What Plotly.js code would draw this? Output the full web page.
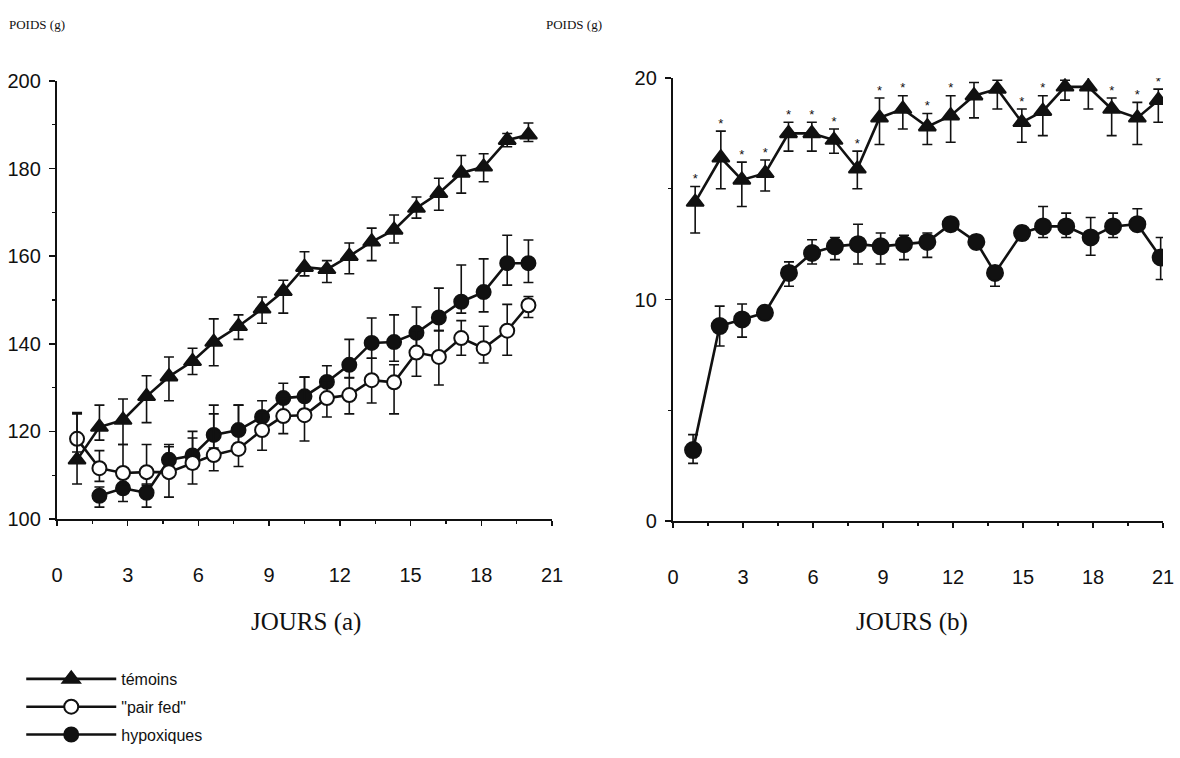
<!DOCTYPE html>
<html><head><meta charset="utf-8">
<script src="https://cdn.plot.ly/plotly-3.0.1.min.js"></script>
<style>html,body{margin:0;padding:0;background:#fff}#chart{width:1180px;height:758px}</style>
</head><body><div id="chart"></div>
<script>
// ---- Panel (a): body weight (g) ----
var joursA = [0.85,1.8,2.8,3.8,4.75,5.75,6.65,7.7,8.7,9.6,10.5,11.45,12.4,13.35,14.3,15.25,16.2,17.15,18.1,19.1,20.0];
var temoinsA = [113.5,121,122.6,128,132.5,136,140.4,144,148,152,157.5,157,160,163.3,166,171,174.4,179,180.4,186.5,187.7];
var temoinsA_plus = [10.5,5,4.8,4.7,4.5,3,5.3,2.6,2.7,2.5,3.5,2,3,3.1,3.4,2.5,3.4,4,3,1.5,2.7];
var temoinsA_minus = [5.5,3,5.6,6,5.5,3,5.4,3,3.3,5,2,3,4,4.3,3,2.3,3.9,4.6,3.4,1.5,1.5];
var pairFedA = [118.3,111.6,110.5,110.7,110.7,112.8,114.6,116,120.3,123.5,123.7,127.6,128.3,131.7,131.2,138,137,141.3,139,143,148.8];
var pairFedA_plus = [6,4,6.5,6.3,6.3,7.2,11.4,10,4,4,8.7,4,4,5,4,5,6,4,5,6,2];
var pairFedA_minus = [3,3,3,3,5.7,4.8,3.6,4,4.6,4,5.9,4.3,4.3,5.2,7.2,5.4,6.4,3.9,3.4,5.6,2.8];
var joursA_hyp = joursA.slice(1);
var hypoxA = [105.3,107,106,113.5,114.5,119.2,120.3,123.3,127.6,128,131.3,135.2,140.2,140.4,142.5,146,149.6,151.8,158.4,158.4];
var hypoxA_plus = [2,3,2,3,4,4.8,5.7,3.7,3.4,4.4,3.7,5.8,5.7,6.2,5.9,6.7,8.4,7.6,6.4,5.3];
var hypoxA_minus = [2.6,3,3.3,3,3,3,3,3,3,3,3,3,3.5,4.4,5.5,3,2.6,4.5,5,4.4];

// ---- Panel (b) ----
var joursB_tem = [0.95,2.05,2.95,3.95,4.95,5.95,6.9,7.9,8.85,9.85,10.9,11.9,12.9,13.9,14.95,15.85,16.8,17.8,18.8,19.9,20.8];
var temoinsB = [14.4,16.4,15.4,15.7,17.5,17.5,17.2,15.9,18.2,18.6,17.8,18.3,19.2,19.5,18.0,18.5,19.6,19.6,18.6,18.2,19.0];
var temoinsB_plus = [0.7,1.2,0.8,0.6,0.5,0.5,0.5,0.8,0.9,0.6,0.6,0.9,0.6,0.4,0.6,0.7,0.3,0.6,0.5,0.7,0.5];
var temoinsB_minus = [1.4,1.4,1.2,0.8,0.8,0.8,0.6,0.9,1.2,0.9,0.8,1.2,1.0,0.9,0.9,1.1,0.6,1.0,1.2,1.2,1.0];
var joursB_hyp = [0.86,2.0,2.96,3.94,4.97,5.96,6.94,7.93,8.9,9.9,10.9,11.9,13.0,13.8,14.96,15.86,16.85,17.9,18.86,19.9,20.9];
var hypoxB = [3.2,8.8,9.1,9.4,11.2,12.1,12.4,12.5,12.4,12.5,12.6,13.4,12.6,11.2,13.0,13.3,13.3,12.8,13.3,13.4,11.9];
var hypoxB_plus = [0.7,0.9,0.7,0.3,0.5,0.6,0.4,0.9,0.6,0.4,0.4,0.3,0.3,0.3,0.3,0.9,0.6,0.9,0.6,0.7,0.9];
var hypoxB_minus = [0.6,0.9,0.8,0.3,0.6,0.5,0.6,0.9,0.8,0.7,0.7,0.3,0.3,0.6,0.3,0.5,0.5,0.8,0.5,0.3,1.0];
var significance = '*';

var seriesNames = ['témoins', '"pair fed"', 'hypoxiques'];
var yTitle = 'POIDS (g)';
var xTitles = ['JOURS (a)', 'JOURS (b)'];

var K = '#111';
function err(p, m) { return {type:'data', symmetric:false, array:p, arrayminus:m, color:K, thickness:1.6, width:5}; }
function tr(x, y, p, m, name, sym, fill, xa, ya, showleg, rank, size) {
  return {x:x, y:y, type:'scatter', mode:'lines+markers', name:name, xaxis:xa, yaxis:ya,
    showlegend:showleg, legendrank:rank, legendgroup:name,
    line:{color:K, width:2.6},
    marker:{symbol:sym, size:size, color:fill, line:{color:K, width:2}},
    error_y:err(p, m)};
}
var starY = temoinsB.map(function (v, i) { return v + temoinsB_plus[i]; });
var data = [
  tr(joursA_hyp, hypoxA, hypoxA_plus, hypoxA_minus, seriesNames[2], 'circle', K, 'x', 'y', true, 3, 14),
  tr(joursA, pairFedA, pairFedA_plus, pairFedA_minus, seriesNames[1], 'circle', '#fff', 'x', 'y', true, 2, 14),
  tr(joursA, temoinsA, temoinsA_plus, temoinsA_minus, seriesNames[0], 'triangle-up', K, 'x', 'y', true, 1, 15),
  tr(joursB_hyp, hypoxB, hypoxB_plus, hypoxB_minus, seriesNames[2], 'circle', K, 'x2', 'y2', false, 3, 16),
  tr(joursB_tem, temoinsB, temoinsB_plus, temoinsB_minus, seriesNames[0], 'triangle-up', K, 'x2', 'y2', false, 1, 15),
  {x:joursB_tem, y:starY, type:'scatter', mode:'text', text:joursB_tem.map(function(){return significance;}),
   textposition:'top center', textfont:{family:'"Liberation Sans", Arial, sans-serif', size:13, color:K},
   xaxis:'x2', yaxis:'y2', showlegend:false, hoverinfo:'skip'}
];

var tickFont = {family:'"Liberation Sans Narrow", "Liberation Sans", Arial, sans-serif', size:20, color:K};
function xax(dom, anchor) {
  return {domain:dom, anchor:anchor, range:[0,21], tickvals:[0,3,6,9,12,15,18,21], showgrid:false, zeroline:false,
    showline:true, linecolor:K, linewidth:2.2, ticks:'outside', ticklen:5, tickwidth:1.5, tickcolor:K,
    ticklabelstandoff:32, tickfont:tickFont,
    minor:{tickvals:[1.5,4.5,7.5,10.5,13.5,16.5,19.5], ticks:'outside', ticklen:3, tickwidth:1.2, tickcolor:K}, fixedrange:true};
}
function yax(dom, anchor, range, dt, mdt) {
  return {domain:dom, anchor:anchor, range:range, dtick:dt, tick0:range[0], showgrid:false, zeroline:false,
    showline:true, linecolor:K, linewidth:2.2, ticks:'outside', ticklen:6, tickwidth:1.5, tickcolor:K,
    tickfont:tickFont, ticklabelstandoff:4,
    minor:{dtick:mdt, ticks:'outside', ticklen:3, tickwidth:1.2, tickcolor:K}, fixedrange:true};
}
var layout = {
  width:1180, height:758, margin:{l:0,r:0,t:0,b:0}, paper_bgcolor:'#fff', plot_bgcolor:'#fff',
  xaxis: xax([57/1180, 552/1180], 'y'),
  yaxis: yax([1-519/758, 1-81/758], 'x', [100,200], 20, 10),
  xaxis2: xax([673/1180, 1163/1180], 'y2'),
  yaxis2: yax([1-521/758, 1-78/758], 'x2', [0,20], 10, 5),
  showlegend:true,
  legend:{x:0.018, y:1-662/758, xanchor:'left', yanchor:'top', bgcolor:'rgba(0,0,0,0)',
    font:{family:'"Liberation Sans", Arial, sans-serif', size:16, color:K}, itemwidth:90, tracegroupgap:4},
  annotations:[
    {text:yTitle, xref:'paper', yref:'paper', x:7/1180, y:1-24/758, xanchor:'left', yanchor:'middle', showarrow:false,
     font:{family:'"Liberation Serif", "Times New Roman", serif', size:13, color:K}},
    {text:yTitle, xref:'paper', yref:'paper', x:544/1180, y:1-24/758, xanchor:'left', yanchor:'middle', showarrow:false,
     font:{family:'"Liberation Serif", "Times New Roman", serif', size:13, color:K}},
    {text:xTitles[0], xref:'paper', yref:'paper', x:306/1180, y:1-622/758, xanchor:'center', yanchor:'middle', showarrow:false,
     font:{family:'"Liberation Serif", "Times New Roman", serif', size:25, color:K}},
    {text:xTitles[1], xref:'paper', yref:'paper', x:912/1180, y:1-622/758, xanchor:'center', yanchor:'middle', showarrow:false,
     font:{family:'"Liberation Serif", "Times New Roman", serif', size:25, color:K}}
  ]
};
Plotly.newPlot('chart', data, layout, {displayModeBar:false, staticPlot:true});
</script></body></html>
